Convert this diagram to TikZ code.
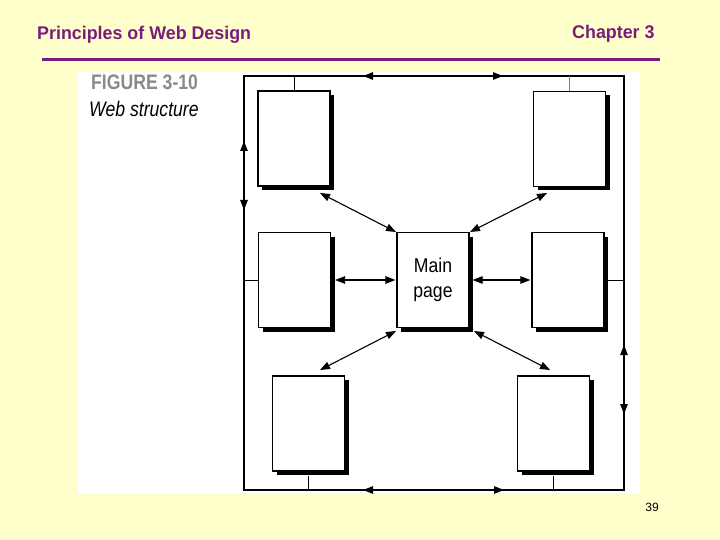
\documentclass[tikz,border=0pt]{standalone}
\usepackage{fontspec}
\setmainfont{Liberation Sans}
\usetikzlibrary{arrows.meta,shadows}
\definecolor{bgyellow}{HTML}{FFFFCC}
\definecolor{hdrpurple}{HTML}{7A1C7A}
\definecolor{figgray}{HTML}{8A8A8A}
\begin{document}
\begin{tikzpicture}[x=1pt,y=-1pt,
  pagebox/.style={draw=black,line width=1.2pt,fill=white,minimum width=72pt,minimum height=95pt,inner sep=0pt,
    drop shadow={shadow xshift=4pt,shadow yshift=-4pt,opacity=1,fill=black}},
  link/.style={line width=1.1pt,{Triangle[length=10pt,width=7.5pt]}-{Triangle[length=10pt,width=7.5pt]}},
  frameline/.style={line width=1.3pt},
  stub/.style={line width=0.9pt},
  hdr/.style={text=hdrpurple,font=\fontsize{17.5}{20}\selectfont\bfseries,inner sep=0pt,anchor=base west}]
\useasboundingbox (0,0) rectangle (720,540);
\fill[bgyellow] (0,0) rectangle (720,540);
% header
\node[hdr] (title) at (37,40) {\scalebox{1.02}[1.05]{Principles of Web Design}};
\node[hdr] (chap) at (572,39) {\scalebox{1.02}[1.05]{Chapter 3}};
\draw[hdrpurple,line width=3pt] (42,60) -- (660,60);
\node[inner sep=0pt,anchor=base,font=\fontsize{12}{14}\selectfont] (pagenum) at (652,511) {39};
% figure panel
\fill[white] (78,72) rectangle (640,493);
\node[inner sep=0pt,anchor=base west,text=figgray,font=\fontsize{21}{24}\selectfont\bfseries] (figlab) at (91,90) {\scalebox{0.84}[1]{FIGURE 3-10}};
\node[inner sep=0pt,anchor=base west,font=\fontsize{21}{24}\selectfont\itshape] (figcap) at (89,117) {\scalebox{0.84}[1]{Web structure}};
% frame corners
\coordinate (c1) at (244,76);
\coordinate (c2) at (624,76);
\coordinate (c3) at (624,490);
\coordinate (c4) at (244,490);
\draw[frameline] (c1) -- (c2) -- (c3) -- (c4) -- cycle;
% pages
\node[pagebox] (tl) at (294,138.5) {};
\node[pagebox] (tr) at (569.5,139) {};
\node[pagebox] (ml) at (294.5,280) {};
\node[pagebox,align=center,font=\fontsize{20}{25}\selectfont] (main) at (433,280) {\scalebox{0.88}[1]{Main}\\\scalebox{0.88}[1]{page}};
\node[pagebox] (mr) at (568,280) {};
\node[pagebox] (bl) at (308.5,423.5) {};
\node[pagebox] (br) at (553.5,423.5) {};
% stubs to frame
\draw[stub] (tl.north) -- (tl.north |- c1);
\draw[stub,gray] (tr.north) -- (tr.north |- c1);
\draw[stub] (ml.west) -- (ml.west -| c1);
\draw[stub] (mr.east) -- (mr.east -| c2);
\draw[stub] ([yshift=-4pt]bl.south) -- (bl.south |- c4);
\draw[stub] ([yshift=-4pt]br.south) -- (br.south |- c4);
% frame arrows
\coordinate (ta) at (363,76); \coordinate (tb) at (503,76);
\coordinate (la) at (244,141); \coordinate (lb) at (244,210);
\coordinate (ra) at (624,345); \coordinate (rb) at (624,414);
\coordinate (ba) at (363,490); \coordinate (bb) at (504,490);
\draw[link] (ta) -- (tb);
\draw[link] (la) -- (lb);
\draw[link] (ra) -- (rb);
\draw[link] (ba) -- (bb);
% links from main page
\coordinate (a1) at (320,193); \coordinate (a2) at (396,232);
\coordinate (b1) at (547,193); \coordinate (b2) at (470,232);
\coordinate (d1) at (396,331); \coordinate (d2) at (320,370);
\coordinate (e1) at (474,331); \coordinate (e2) at (550,370);
\draw[link] (a1) -- (a2);
\draw[link] (b1) -- (b2);
\draw[link] (d1) -- (d2);
\draw[link] (e1) -- (e2);
\draw[link] ([xshift=4pt]ml.east) -- ([xshift=-1pt]main.west);
\draw[link] ([xshift=3pt]main.east) -- ([xshift=-1pt]mr.west);
\end{tikzpicture}
\end{document}
